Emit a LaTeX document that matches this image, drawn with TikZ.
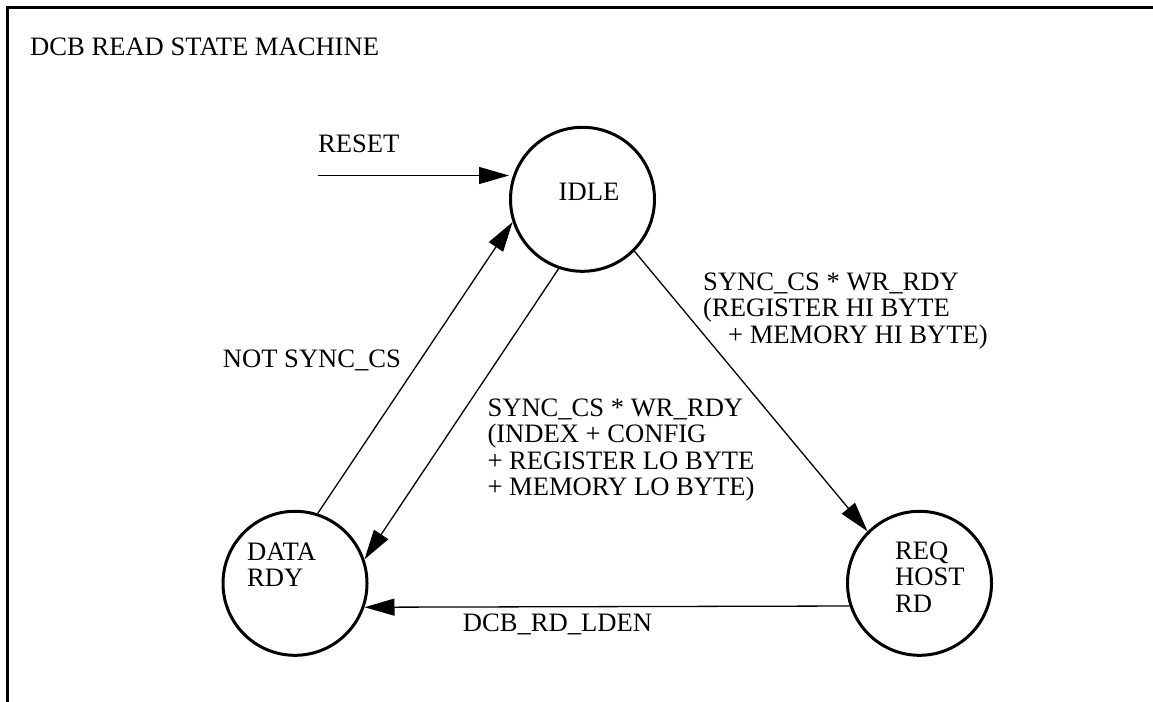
\documentclass[tikz,border=0pt]{standalone}
\usepackage{fontspec}
\setmainfont{Liberation Serif}
\usetikzlibrary{arrows.meta}
\begin{document}
\begin{tikzpicture}[x=1pt,y=-1pt,
  state/.style={circle,draw,line width=3pt,minimum size=144pt,inner sep=0pt},
  lbl/.style={anchor=base west,inner sep=0pt,font=\fontsize{26.6}{26.6}\selectfont},
  trans/.style={line width=1.3pt,-{Triangle[length=30pt,width=17pt]}},
  framestyle/.style={line width=3pt}]
\useasboundingbox (0,0) rectangle (1153,701);
\draw[framestyle] (7.5,720) -- (7.5,7.5) -- (1170,7.5);
% states
\node[state] (idle) at (582.5,199.3) {};
\node[state] (data) at (295,583.3) {};
\node[state] (req) at (919.5,583.3) {};
% texts
\node[lbl] (title) at (30,55.7) {DCB READ STATE MACHINE};
\node[lbl] (resetlbl) at (318,152) {RESET};
\node[lbl] (idletxt) at (558.5,200) {IDLE};
\node[lbl] (datatxt) at (247,560) {\begin{tabular}[t]{@{}l@{}}DATA\\RDY\end{tabular}};
\node[lbl] (reqtxt) at (895,559.3) {\begin{tabular}[t]{@{}l@{}}REQ\\HOST\\RD\end{tabular}};
\node[lbl] (notsync) at (222.7,367.7) {NOT SYNC\_CS};
\node[lbl] (hilbl) at (703,290) {\begin{tabular}[t]{@{}l@{}}SYNC\_CS * WR\_RDY\\(REGISTER HI BYTE\\\hspace*{25pt}+ MEMORY HI BYTE)\end{tabular}};
\node[lbl] (lolbl) at (487.3,416) {\begin{tabular}[t]{@{}l@{}}SYNC\_CS * WR\_RDY\\(INDEX + CONFIG\\+ REGISTER LO BYTE\\+ MEMORY LO BYTE)\end{tabular}};
\node[lbl] (ldenlbl) at (462.7,631.7) {DCB\_RD\_LDEN};
% connectors
\coordinate (rs) at (318,175.5);
\draw[trans] (rs) -- (rs -| idle.west);
\draw[trans] (data.72) -- (idle.198);
\draw[trans] (idle.251.5) -- (data.19);
\draw[trans] (idle.315) -- (req.135);
\draw[trans] (req.198.6) -- (data.341.4);
\end{tikzpicture}
\end{document}
